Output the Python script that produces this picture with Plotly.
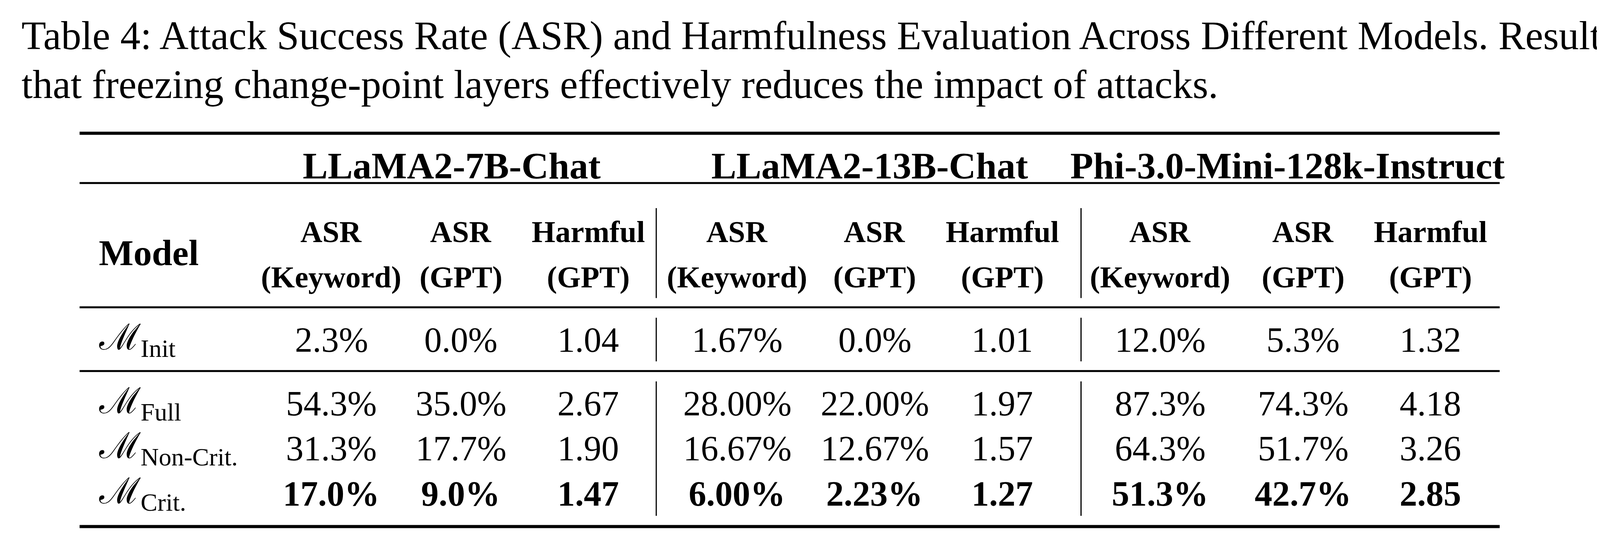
import plotly.graph_objects as go

W, H = 4690, 1406
FONT = "Liberation Serif"

CAPTION = [
    "Table 4: Attack Success Rate (ASR) and Harmfulness Evaluation Across Different Models. Results demonstrate",
    "that freezing change-point layers effectively reduces the impact of attacks.",
]
GROUPS = ["LLaMA2-7B-Chat", "LLaMA2-13B-Chat", "Phi-3.0-Mini-128k-Instruct"]
METRICS_TOP = ["ASR", "ASR", "Harmful"]
METRICS_BOTTOM = ["(Keyword)", "(GPT)", "(GPT)"]
ROW_SUBS = ["Init", "Full", "Non-Crit.", "Crit."]
VALUES = [
    ["2.3%", "0.0%", "1.04", "1.67%", "0.0%", "1.01", "12.0%", "5.3%", "1.32"],
    ["54.3%", "35.0%", "2.67", "28.00%", "22.00%", "1.97", "87.3%", "74.3%", "4.18"],
    ["31.3%", "17.7%", "1.90", "16.67%", "12.67%", "1.57", "64.3%", "51.7%", "3.26"],
    ["17.0%", "9.0%", "1.47", "6.00%", "2.23%", "1.27", "51.3%", "42.7%", "2.85"],
]
BOLD_ROW = 3

col_x = [966, 1347, 1722, 2160, 2565, 2940, 3405, 3825, 4200]
group_x = [1320, 2550, 3780]
row_y = [872, 1037, 1154, 1271]
vlines_x = [1922, 3172]
X0, X1 = 225, 4404

fig = go.Figure()
ann = []
shapes = []


def text(x, y, s, size, bold=False, anchor="center"):
    if bold:
        s = f"<b>{s}</b>"
    ann.append(dict(x=x, y=y, text=s, showarrow=False, xref="x", yref="y",
                    xanchor=anchor, yanchor="middle",
                    font=dict(family=FONT, size=size, color="black")))


def hline(y, w):
    shapes.append(dict(type="line", x0=X0, x1=X1, y0=y, y1=y, xref="x", yref="y",
                       line=dict(color="black", width=w)))


# caption
text(52, 84, CAPTION[0], 103, anchor="left")
text(52, 210, CAPTION[1], 103, anchor="left")

# rules
hline(337, 8)
hline(466, 5)
hline(788, 5)
hline(953, 5)
hline(1356, 8)
for vx in vlines_x:
    for y0, y1 in [(531, 764), (815, 928), (980, 1328)]:
        shapes.append(dict(type="line", x0=vx, x1=vx, y0=y0, y1=y1, xref="x", yref="y",
                           line=dict(color="black", width=3)))

# headers
for gx, g in zip(group_x, GROUPS):
    text(gx, 421, g, 96, bold=True)
text(279, 646, "Model", 94, bold=True, anchor="left")
for i, cx in enumerate(col_x):
    text(cx, 592, METRICS_TOP[i % 3], 78, bold=True)
    text(cx, 710, METRICS_BOTTOM[i % 3], 78, bold=True)

# body
for r, (sub, vals) in enumerate(zip(ROW_SUBS, VALUES)):
    text(279, row_y[r], f"ℳ<sub>{sub}</sub>", 92, anchor="left")
    for cx, v in zip(col_x, vals):
        text(cx, row_y[r], v, 90, bold=(r == BOLD_ROW))

fig.update_layout(
    autosize=True,
    margin=dict(l=0, r=0, t=0, b=0),
    paper_bgcolor="white", plot_bgcolor="white",
    xaxis=dict(range=[0, W], visible=False, fixedrange=True),
    yaxis=dict(range=[H, 0], visible=False, fixedrange=True),
    annotations=ann, shapes=shapes,
    showlegend=False,
)
fig.write_html("out.html", config={"displayModeBar": False})
